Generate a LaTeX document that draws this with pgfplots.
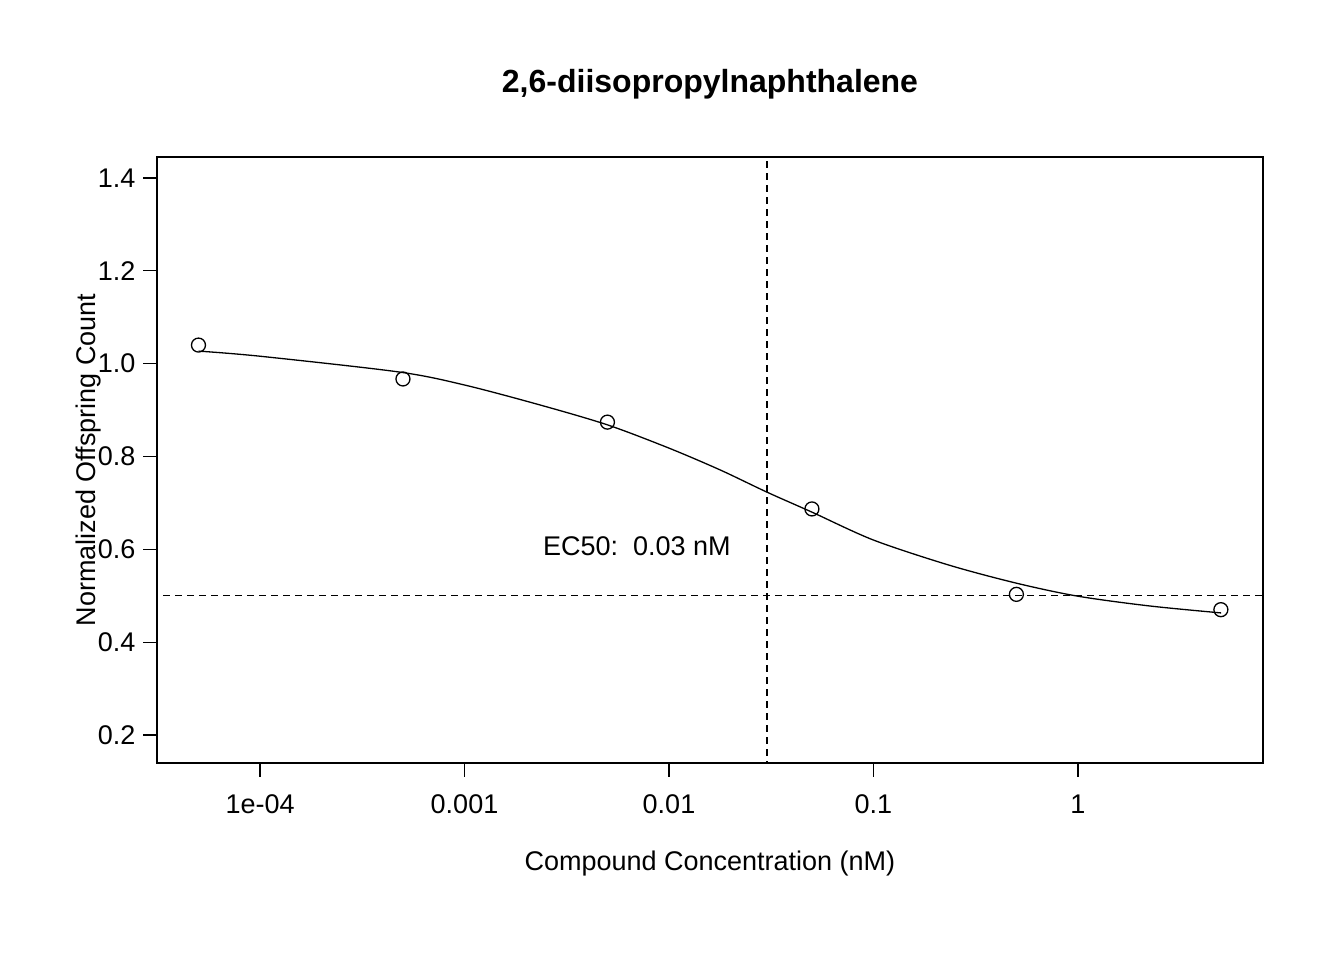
\documentclass[border=0pt]{standalone}
\usepackage{pgfplots}
\pgfplotsset{compat=1.18}
\usepackage{fontspec}
\setmainfont{Liberation Sans}
\begin{document}
\begin{tikzpicture}
\begin{axis}[at={(0,0)},anchor=south west,
 scale only axis, width=1106pt, height=606pt,
 xmode=log, log basis x=10,
 xmin=3.134e-5, xmax=8.03, ymin=0.1397, ymax=1.4452,
 axis line style={line width=1.3pt}, 
 tick style={line width=1.3pt,black}, tick align=outside, major tick length=14pt,
 xtick pos=bottom, ytick pos=left, minor tick num=0,
 xtick={1e-4,1e-3,1e-2,1e-1,1}, xticklabels={1e-04,0.001,0.01,0.1,1},
 ytick={0.2,0.4,0.6,0.8,1.0,1.2,1.4},
 yticklabel style={/pgf/number format/fixed,/pgf/number format/fixed zerofill,/pgf/number format/precision=1},
 /pgf/number format/assume math mode=true,
 ticklabel style={font=\fontsize{27}{30}\selectfont},
 xticklabel style={yshift=-14pt},
 yticklabel style={xshift=-4pt},
 xlabel={Compound Concentration (nM)}, ylabel={Normalized Offspring Count},
 label style={font=\fontsize{27}{30}\selectfont},
 xlabel style={yshift=-30pt}, ylabel style={yshift=-10pt},
 title={\bfseries 2,6-diisopropylnaphthalene},
 title style={font=\fontsize{32}{36}\selectfont, yshift=48pt},
 clip=true]
\addplot[black, line width=1.3pt, smooth, no marks] coordinates {
(5.01e-5,1.027)(1e-4,1.016)(4.79e-4,0.982)(1e-3,0.954)(2.34e-3,0.911)(5.01e-3,0.868)(1e-2,0.818)(1.78e-2,0.771)(3.02e-2,0.723)(5.01e-2,0.680)(0.1,0.620)(0.234,0.566)(0.501,0.527)(1,0.499)(2.24,0.478)(5.01,0.463)};
\addplot[only marks, mark=o, mark size=7pt, mark options={line width=1.3pt}, black] coordinates {
(5e-5,1.040)(5e-4,0.967)(5e-3,0.874)(5e-2,0.687)(0.5,0.503)(5,0.470)};
\addplot[black, line width=1.3pt, dash pattern=on 7pt off 5pt] coordinates {(1e-6,0.5)(100,0.5)};
\addplot[black, line width=1.3pt, dash pattern=on 7pt off 5pt] coordinates {(0.0301,0)(0.0301,2)};
\node[font=\fontsize{27}{30}\selectfont] at (axis cs:0.00697,0.607) {EC50:\ \ 0.03 nM};
\end{axis}
\path (-157pt,-197pt) rectangle (1187pt,763pt);
\end{tikzpicture}
\end{document}
